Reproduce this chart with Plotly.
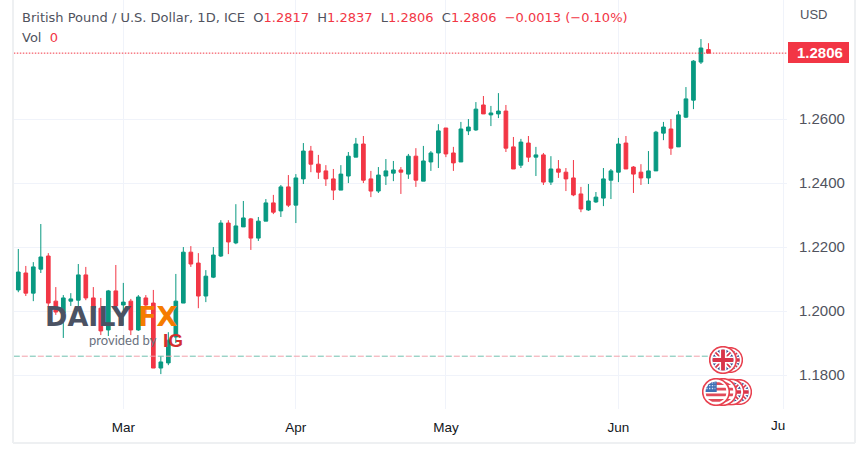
import plotly.graph_objects as go
import base64

open_ = [1.2066,1.2119,1.2056,1.2131,1.2172,1.2031,1.1994,1.2031,1.2034,1.2113,1.2041,1.2009,1.1941,1.2063,1.2019,1.2031,1.1941,1.2041,1.2025,1.1822,1.1838,1.1919,1.2025,1.2184,1.2150,1.2047,1.2106,1.2172,1.2275,1.2213,1.2263,1.2288,1.2228,1.2281,1.2338,1.2313,1.2388,1.2331,1.2413,1.2500,1.2459,1.2438,1.2413,1.2378,1.2422,1.2481,1.2522,1.2413,1.2375,1.2422,1.2431,1.2441,1.2428,1.2484,1.2406,1.2466,1.2494,1.2572,1.2494,1.2466,1.2563,1.2566,1.2644,1.2613,1.2616,1.2625,1.2513,1.2456,1.2525,1.2481,1.2488,1.2403,1.2444,1.2434,1.2416,1.2366,1.2316,1.2341,1.2353,1.2409,1.2434,1.2525,1.2450,1.2434,1.2416,1.2438,1.2556,1.2569,1.2513,1.2606,1.2659,1.2778,1.2817]
high = [1.2194,1.2141,1.2153,1.2272,1.2181,1.2075,1.2050,1.2056,1.2147,1.2138,1.2075,1.2041,1.2066,1.2144,1.2088,1.2038,1.2050,1.2050,1.2066,1.1859,1.1934,1.2116,1.2200,1.2203,1.2181,1.2128,1.2200,1.2284,1.2284,1.2334,1.2344,1.2291,1.2294,1.2350,1.2363,1.2394,1.2425,1.2428,1.2525,1.2516,1.2488,1.2456,1.2444,1.2456,1.2497,1.2541,1.2547,1.2438,1.2450,1.2475,1.2469,1.2450,1.2491,1.2509,1.2516,1.2500,1.2584,1.2572,1.2513,1.2591,1.2600,1.2653,1.2672,1.2641,1.2681,1.2644,1.2544,1.2538,1.2547,1.2513,1.2494,1.2484,1.2472,1.2447,1.2472,1.2388,1.2397,1.2372,1.2447,1.2444,1.2541,1.2547,1.2453,1.2459,1.2500,1.2563,1.2591,1.2600,1.2625,1.2700,1.2784,1.2850,1.2837]
low = [1.2059,1.2047,1.2031,1.2119,1.2013,1.1988,1.1916,1.2016,1.2013,1.2034,1.1994,1.1925,1.1922,1.2003,1.1956,1.1925,1.1938,1.1988,1.1822,1.1803,1.1831,1.1900,1.2025,1.2138,1.2009,1.2028,1.2103,1.2169,1.2178,1.2209,1.2263,1.2191,1.2219,1.2281,1.2303,1.2294,1.2325,1.2275,1.2397,1.2434,1.2413,1.2391,1.2347,1.2378,1.2400,1.2481,1.2400,1.2356,1.2369,1.2394,1.2406,1.2366,1.2413,1.2388,1.2406,1.2438,1.2447,1.2481,1.2438,1.2466,1.2550,1.2563,1.2616,1.2578,1.2603,1.2497,1.2444,1.2447,1.2466,1.2422,1.2394,1.2394,1.2416,1.2375,1.2359,1.2309,1.2313,1.2338,1.2328,1.2350,1.2403,1.2444,1.2369,1.2394,1.2397,1.2438,1.2534,1.2488,1.2513,1.2603,1.2631,1.2772,1.2806]
close = [1.2122,1.2056,1.2138,1.2169,1.2025,1.1997,1.2041,1.2038,1.2113,1.2041,1.2009,1.1938,1.2063,1.2016,1.2028,1.1941,1.2044,1.2019,1.1822,1.1841,1.1909,1.2031,1.2184,1.2147,1.2047,1.2109,1.2175,1.2275,1.2216,1.2266,1.2291,1.2228,1.2281,1.2338,1.2309,1.2388,1.2331,1.2416,1.2500,1.2459,1.2434,1.2413,1.2378,1.2428,1.2484,1.2522,1.2409,1.2375,1.2425,1.2438,1.2441,1.2434,1.2484,1.2409,1.2469,1.2494,1.2563,1.2491,1.2463,1.2569,1.2575,1.2631,1.2616,1.2619,1.2625,1.2509,1.2444,1.2528,1.2481,1.2488,1.2403,1.2444,1.2434,1.2413,1.2363,1.2319,1.2344,1.2356,1.2413,1.2438,1.2522,1.2444,1.2428,1.2416,1.2438,1.2559,1.2575,1.2509,1.2613,1.2663,1.2781,1.2822,1.2806]
bar_index = list(range(len(close)))
month_pos = [14, 37, 57, 80, 102]
month_labels = ["Mar", "Apr", "May", "Jun", ""]
price_ticks = [1.18, 1.20, 1.22, 1.24, 1.26]
price_labels = ["1.1800", "1.2000", "1.2200", "1.2400", "1.2600"]
last_price = 1.2806
level_price = 1.1859
level_end = 92

GREEN = "#089981"
RED = "#f23645"
GRID = "#f0f3fa"
TXT = "#50535e"


def data_uri(svg):
    return "data:image/svg+xml;base64," + base64.b64encode(svg.encode()).decode()


UK = ('<svg xmlns="http://www.w3.org/2000/svg" viewBox="0 0 40 40">'
      '<defs><clipPath id="c"><circle cx="20" cy="20" r="15"/></clipPath></defs>'
      '<circle cx="20" cy="20" r="19" fill="#fff" stroke="#e8414f" stroke-width="2.4"/>'
      '<g clip-path="url(#c)"><rect width="40" height="40" fill="#27408b"/>'
      '<path d="M3 3L37 37M37 3L3 37" stroke="#fff" stroke-width="7"/>'
      '<path d="M3 3L37 37M37 3L3 37" stroke="#d8344a" stroke-width="2.4"/>'
      '<path d="M20 0V40M0 20H40" stroke="#fff" stroke-width="10"/>'
      '<path d="M20 0V40M0 20H40" stroke="#d8344a" stroke-width="5.5"/></g></svg>')
US = ('<svg xmlns="http://www.w3.org/2000/svg" viewBox="0 0 40 40">'
      '<defs><clipPath id="c"><circle cx="20" cy="20" r="15"/></clipPath></defs>'
      '<circle cx="20" cy="20" r="19" fill="#fff" stroke="#e8414f" stroke-width="2.4"/>'
      '<g clip-path="url(#c)"><rect width="40" height="40" fill="#fff"/>'
      '<path d="M0 8H40M0 16H40M0 24H40M0 32H40" stroke="#e14a5a" stroke-width="4"/>'
      '<rect x="3" y="3" width="18" height="17" fill="#3f6fb5"/>'
      '<path d="M6 7H19M6 11H19M6 15H19" stroke="#cfe0f5" stroke-width="1.8" stroke-dasharray="2 2"/></g></svg>')

W, H = 867, 455
L, R, B = 14, 80, 46


def frac_x(x): return (x - L) / (W - L - R)
def frac_y(y): return 1 - y / (H - B)


fig = go.Figure()
fig.add_trace(go.Candlestick(
    x=bar_index, open=open_, high=high, low=low, close=close,
    increasing=dict(line=dict(color=GREEN, width=1), fillcolor=GREEN),
    decreasing=dict(line=dict(color=RED, width=1), fillcolor=RED),
    whiskerwidth=0, showlegend=False, hoverinfo="skip"))
fig.add_trace(go.Scatter(x=[-0.6, level_end], y=[level_price]*2, mode="lines", hoverinfo="skip",
                         showlegend=False, line=dict(color="#6fbfae", width=1, dash="6px,10px")))
fig.add_trace(go.Scatter(x=[-0.6, level_end], y=[level_price]*2, mode="lines", hoverinfo="skip",
                         showlegend=False, line=dict(color="#f2a0aa", width=1, dash="0px,8px,6px,2px")))
fig.add_trace(go.Scatter(x=[-0.6, 102.5], y=[last_price]*2, mode="lines", hoverinfo="skip",
                         showlegend=False, line=dict(color=RED, width=1, dash="1.5px,1.5px")))


def frame(a, b, c, d):
    return dict(type="line", xref="paper", yref="paper", x0=frac_x(a), x1=frac_x(b), y0=frac_y(c), y1=frac_y(d),
                line=dict(color="#eef0f2", width=2))


shapes = [
    dict(type="rect", xref="paper", yref="paper", x0=frac_x(788), x1=frac_x(849), y0=frac_y(63), y1=frac_y(42),
         fillcolor=RED, line=dict(width=0), layer="above"),
    frame(13, 13, 0, 443), frame(13, 855, 443, 443), frame(855, 855, 0, 443),
]


def ann(x, y, text, size, color, family, xanchor="left", bold=False):
    return dict(x=frac_x(x), y=frac_y(y), xref="paper", yref="paper", text=f"<b>{text}</b>" if bold else text,
                showarrow=False, xanchor=xanchor, yanchor="middle",
                font=dict(size=size, color=color, family=family), align="left")


HF = "DejaVu Sans"
header = ("British Pound / U.S. Dollar, 1D, ICE&#160;&#160;O<span style='color:#f23645'>1.2817</span>"
          "&#160;&#160;H<span style='color:#f23645'>1.2837</span>&#160;&#160;L<span style='color:#f23645'>1.2806</span>"
          "&#160;&#160;C<span style='color:#f23645'>1.2806</span>"
          "&#160;&#160;<span style='color:#f23645'>\u22120.0013 (\u22120.10%)</span>")
annotations = [
    ann(20, 18, header, 13, TXT, HF),
    ann(20, 38, "Vol&#160;&#160;<span style='color:#f23645'>0</span>", 13, TXT, HF),
    ann(798, 14, "USD", 13, TXT, "Liberation Sans"),
    ann(820, 53, "1.2806", 15, "#ffffff", "Liberation Sans", "center", True),
    ann(787, 425, "Ju", 13.5, "#131722", "Liberation Sans", "right"),
    ann(43, 316, "DAILY", 27, "#4b5263", "DejaVu Sans", bold=True),
    ann(136, 316, "FX", 27, "#f57c00", "DejaVu Sans", bold=True),
    ann(87, 340, "provided by", 13, "#6b7280", "Lato"),
    ann(161, 340, "IG", 19, "#d32f2f", "Liberation Sans", bold=True),
]


def img(uri, cx, cy, d):
    return dict(source=uri, xref="paper", yref="paper", x=frac_x(cx), y=frac_y(cy), sizex=d/(W-L-R), sizey=d/(H-B),
                xanchor="center", yanchor="middle", layer="above", sizing="stretch")


images = [img(data_uri(UK), 730, 360, 26), img(data_uri(UK), 723, 360, 28),
          img(data_uri(UK), 739, 392, 26), img(data_uri(UK), 731, 392, 27), img(data_uri(US), 723, 392, 28),
          img(data_uri(US), 716, 392, 28)]

fig.update_layout(
    width=W, height=H, autosize=False, margin=dict(l=L, r=R, t=0, b=B, pad=0),
    paper_bgcolor="#ffffff", plot_bgcolor="#ffffff", showlegend=False, boxgap=0.3,
    shapes=shapes, annotations=annotations, images=images,
    xaxis=dict(range=[-0.573, 102.47], rangeslider=dict(visible=False), tickmode="array",
               tickvals=month_pos, ticktext=month_labels, showgrid=True, gridcolor=GRID, gridwidth=1,
               zeroline=False, showline=False, ticks="", ticklabelstandoff=8,
               tickfont=dict(size=13.5, color="#131722", family="Liberation Sans")),
    yaxis=dict(range=[1.1694, 1.2972], side="right", tickmode="array", tickvals=price_ticks, ticktext=price_labels,
               showgrid=True, gridcolor=GRID, gridwidth=1, zeroline=False, showline=False, ticks="",
               ticklabelstandoff=11, tickfont=dict(size=15, color=TXT, family="Liberation Sans")),
)
fig.write_html("out.html", config={"displayModeBar": False}, post_script="document.body.style.margin='0';")
